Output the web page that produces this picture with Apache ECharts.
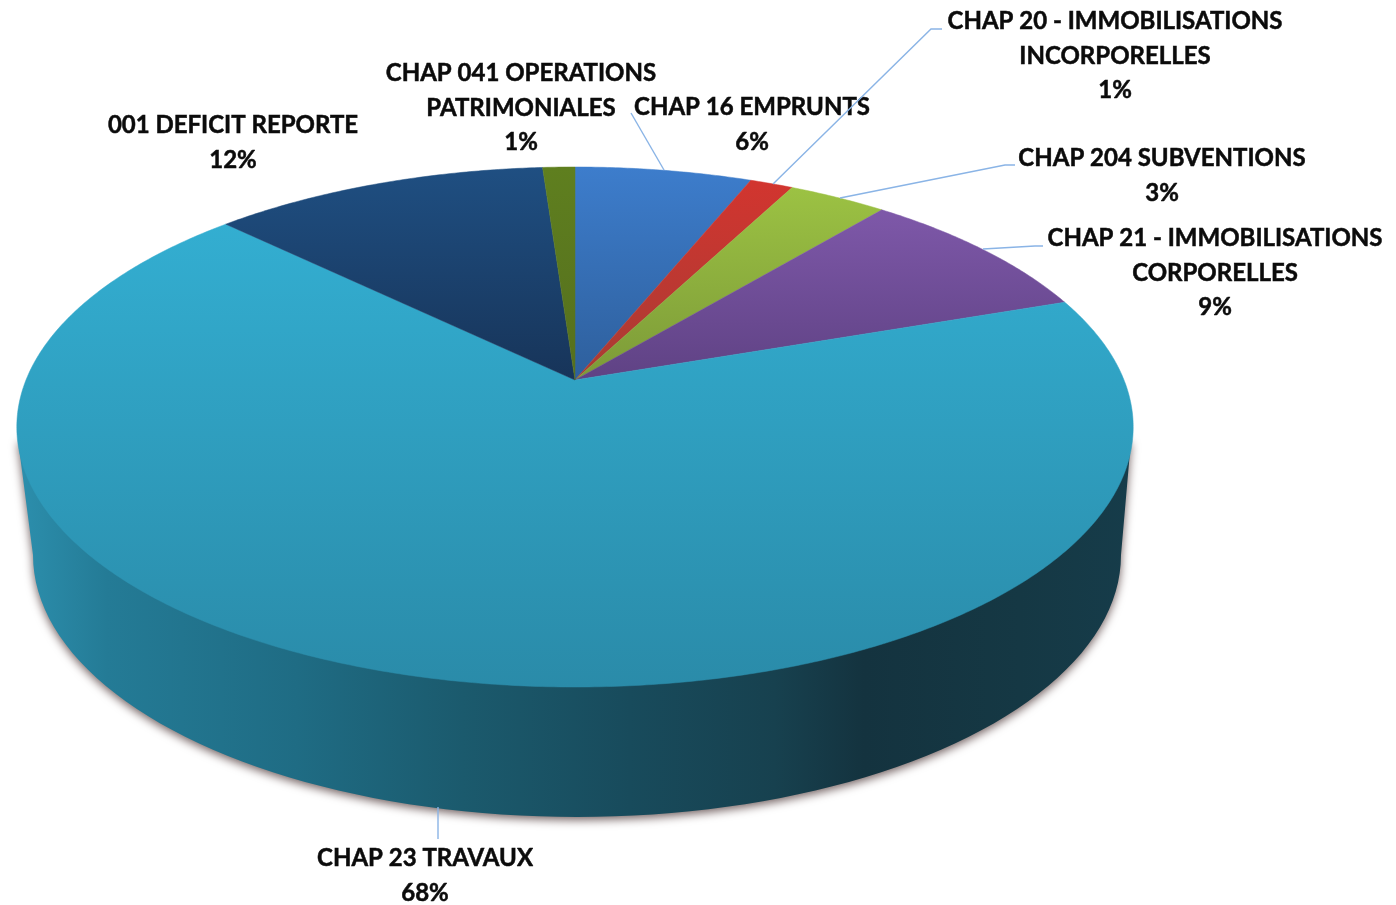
<!DOCTYPE html>
<html>
<head>
<meta charset="utf-8">
<title>Depenses investissement</title>
<style>
html,body{margin:0;padding:0;background:#fff;}
#chart{width:1396px;height:905px;}
</style>
<script src="https://cdn.jsdelivr.net/npm/echarts@6/dist/echarts.min.js"></script>
</head>
<body>
<div id="chart"></div>
<script>
// data, in clockwise order from the top of the pie
var categories = ["CHAP 16 EMPRUNTS","CHAP 20 - IMMOBILISATIONS\nINCORPORELLES","CHAP 204 SUBVENTIONS","CHAP 21 - IMMOBILISATIONS\nCORPORELLES","CHAP 23 TRAVAUX","001 DEFICIT REPORTE","CHAP 041 OPERATIONS\nPATRIMONIALES"];
var shares = [6.1,1.49,3.4,8.7,67.6,11.6,1.11];

// slice colours: top / bottom of the gradient
var topColors = ["#3d7dcc","#d2352f","#9cc243","#7e58a9","#33aed1","#1f4f82","#5f7f1f"];
var bottomColors = ["#2e5f9c","#a83b34","#7c9a38","#5f4284","#2a8ba9","#173459","#556f1e"];

// label centre and first line y, leader line points
var labelX = [752,1115,1162,1215,425,233,521];
var labelY = [107,21,158,238,858,125,73];
var leaders = [
    [[664,170],[631,113]],
    [[773,184],[931,29],[942,29]],
    [[840,198],[1005,165],[1015,165]],
    [[983,249],[1035,246],[1043,246]],
    [[438,807],[438,839]],
    [],
    []
];

// top face: a circle seen in perspective, centre of the circle lands on the apex
var pieX = 575, apexY = 380;
var sideK = 549, lift = 182.8, persp = -0.1808;
// wall: starts under the widest part of the top face, ends on the bottom rim
var wallTopY = 440, wallLeft = 18, wallRight = 1131;
var rimX = 577, rimY = 555, rimRx = 544, rimRy = 262;

var total = shares.reduce(function(a,b){return a+b;},0);

function project(deg){
    var t = deg*Math.PI/180;
    var x = Math.sin(t), y = -Math.cos(t);
    var w = 1+persp*y;
    return [pieX+sideK*x/w,(lift*y+apexY)/w];
}

function sliceAngles(i){
    var before = 0;
    for(var k=0;k<i;k++){
        before += shares[k];
    }
    return [before/total*360,(before+shares[i])/total*360];
}

function renderWall(params,api){
    var pts = [[wallRight,wallTopY]];
    for(var a=0;a<=180;a+=2){
        var t = a*Math.PI/180;
        pts.push([rimX+rimRx*Math.cos(t),rimY+rimRy*Math.sin(t)]);
    }
    pts.push([wallLeft,wallTopY]);
    return {
        type:"polygon",
        shape:{points:pts},
        style:{
            fill:new echarts.graphic.LinearGradient(0,0,1,0,[
                {offset:0,color:"#2c8fad"},
                {offset:0.08,color:"#247b96"},
                {offset:0.25,color:"#1f6c84"},
                {offset:0.4,color:"#1b5a6d"},
                {offset:0.55,color:"#184b5c"},
                {offset:0.68,color:"#17414f"},
                {offset:0.76,color:"#14333f"},
                {offset:0.9,color:"#153844"},
                {offset:1,color:"#163c4a"}
            ]),
            shadowBlur:10,
            shadowOffsetY:3,
            shadowColor:"rgba(90,70,70,0.85)"
        }
    };
}

function renderSlice(params,api){
    var i = params.dataIndex;
    var range = sliceAngles(i);
    var pts = [[pieX,apexY]];
    var steps = Math.max(2,Math.ceil((range[1]-range[0])*2));
    for(var s=0;s<=steps;s++){
        pts.push(project(range[0]+(range[1]-range[0])*s/steps));
    }
    var fill = new echarts.graphic.LinearGradient(0,0,0,1,[
        {offset:0,color:topColors[i]},
        {offset:1,color:bottomColors[i]}
    ]);
    return {
        type:"polygon",
        shape:{points:pts},
        style:{fill:fill,stroke:fill,lineWidth:0.5}
    };
}

function renderLabel(params,api){
    var i = params.dataIndex;
    var children = [{
        type:"text",
        x:labelX[i],
        y:labelY[i]-17,
        style:{
            text:categories[i]+"\n"+Math.round(shares[i])+"%",
            fontFamily:"Lato",
            fontWeight:"bold",
            fontSize:24,
            lineHeight:34.6,
            fill:"#0b0b0b",
            stroke:"#0b0b0b",
            lineWidth:0.5,
            align:"center",
            verticalAlign:"top"
        }
    }];
    if(leaders[i].length){
        children.unshift({
            type:"polyline",
            shape:{points:leaders[i]},
            style:{fill:null,stroke:"#8ab4e6",lineWidth:1.4}
        });
    }
    return {type:"group",children:children};
}

var chart = echarts.init(document.getElementById("chart"));
chart.setOption({
    animation:false,
    backgroundColor:"#fff",
    series:[
        {type:"custom",coordinateSystem:"none",silent:true,z:1,data:[0],renderItem:renderWall},
        {type:"custom",coordinateSystem:"none",silent:true,z:2,data:shares,renderItem:renderSlice},
        {type:"custom",coordinateSystem:"none",silent:true,z:3,data:shares,renderItem:renderLabel}
    ]
});
</script>
</body>
</html>
